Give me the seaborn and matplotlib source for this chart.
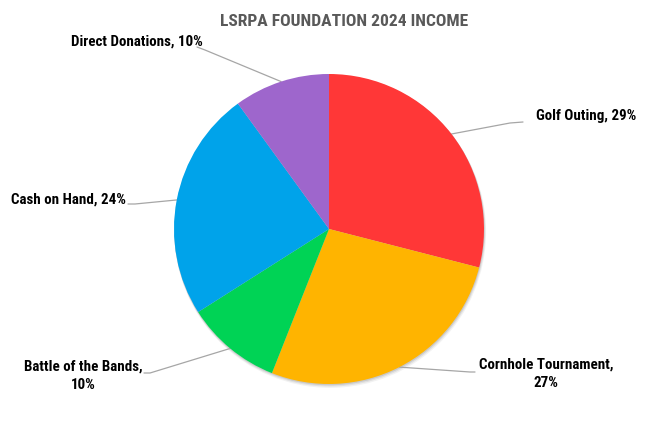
import numpy as np
import matplotlib
matplotlib.use("Agg")
import matplotlib.pyplot as plt
from matplotlib import font_manager
import matplotlib.patches as mpatches
import seaborn as sns

sources = ["Golf Outing", "Cornhole Tournament", "Battle of the Bands", "Cash on Hand", "Direct Donations"]
shares = [29, 27, 10, 24, 10]
label_text = ["Golf Outing, 29%", "Cornhole Tournament,\n27%", "Battle of the Bands,\n10%",
              "Cash on Hand, 24%", "Direct Donations, 10%"]
colors = ["#FF3737", "#FFB400", "#00D355", "#00A3EA", "#9E66CC"]

sns.set_theme(style="white")
names = {f.name for f in font_manager.fontManager.ttflist}
fams = [f for f in ["Liberation Sans Narrow", "DejaVu Sans Condensed", "Roboto Condensed", "Roboto"] if f in names]
plt.rcParams["font.family"] = fams + ["DejaVu Sans"]

W, H = 657, 422
cx, cy, R = 329, 229, 155

def to_data(px, py):
    return (px - cx) / R, (cy - py) / R

fig = plt.figure(figsize=(W / 100, H / 100), dpi=100)
ax = fig.add_axes([0, 0, 1, 1])

# soft shadow under the pie
for k, a in [(3.0, 0.05), (2.0, 0.07), (1.0, 0.1)]:
    ax.add_patch(mpatches.Circle((0.4 * k / R, -k / R), 1 + 0.3 * k / R, color="black",
                                 alpha=a, lw=0, zorder=0.2))

wedges, _ = ax.pie(shares, colors=sns.color_palette(colors), startangle=90, counterclock=False,
                   radius=1, center=(0, 0), wedgeprops=dict(linewidth=0, zorder=1))

ax.set_xlim(-cx / R, (W - cx) / R)
ax.set_ylim(-(H - cy) / R, cy / R)
ax.set_aspect("equal")
ax.axis("off")

# leader line elbows, ends and label anchors (pixels)
line_end = [(510, 123), (470, 372), (150, 373), (135, 204), (205, 50)]
line_tip = [(523, 122), (475, 372), (144, 373), (128, 204), (197, 47)]
text_pos = [(536, 116), (546, 374), (83, 376), (68, 200), (137, 42)]
aligns = ["left", "center", "center", "center", "center"]

for w, le, lt, tp, ha, txt in zip(wedges, line_end, line_tip, text_pos, aligns, label_text):
    mid = np.deg2rad((w.theta1 + w.theta2) / 2)
    x0, y0 = np.cos(mid), np.sin(mid)
    x1, y1 = to_data(*le)
    x2, y2 = to_data(*lt)
    ax.plot([x0, x1, x2], [y0, y1, y2], color="#A6A6A6", lw=0.9, zorder=0.5)
    tx, ty = to_data(*tp)
    ax.text(tx, ty, txt, ha=ha, va="center", fontsize=10.8, fontweight="bold",
            color="black", linespacing=1.45)

tx, ty = to_data(344, 22)
ax.text(tx, ty, "LSRPA FOUNDATION 2024 INCOME", ha="center", va="center",
        fontsize=12.6, fontweight="bold", color="#595959")

fig.savefig("out.png", dpi=100)
